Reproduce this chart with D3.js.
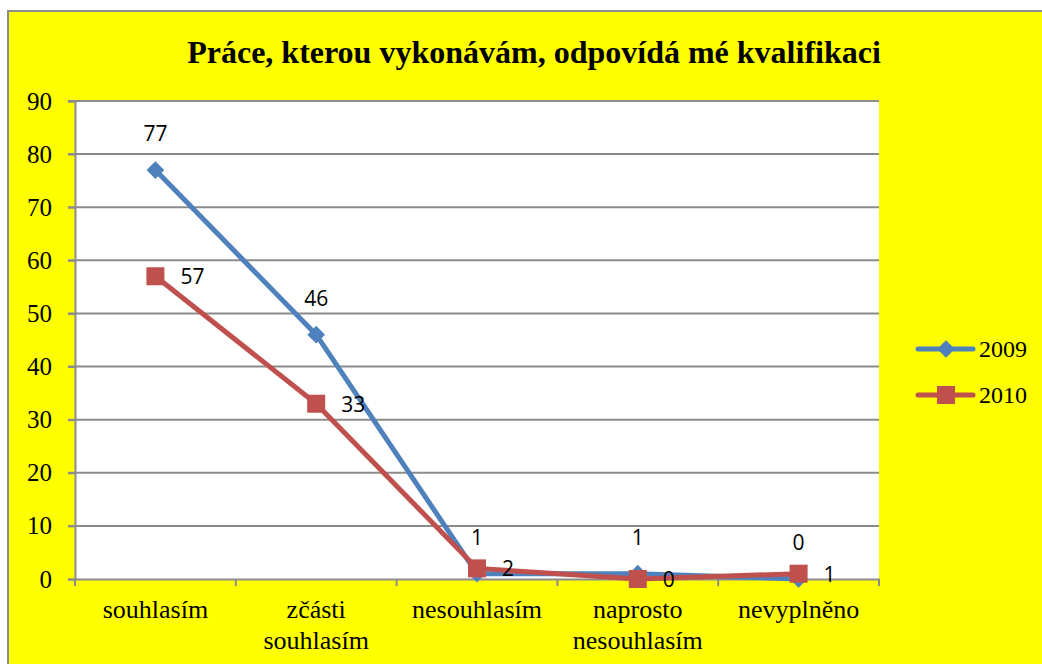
<!DOCTYPE html>
<html>
<head>
<meta charset="utf-8">
<script src="https://cdn.jsdelivr.net/npm/d3@7"></script>
<style>
  body { margin: 0; background: #fff; }
  svg { display: block; }
</style>
</head>
<body>
<svg id="chart"></svg>
<script>
// data
var categories = ["souhlasím", "zčásti souhlasím", "nesouhlasím", "naprosto nesouhlasím", "nevyplněno"];
var catLines = [["souhlasím"], ["zčásti", "souhlasím"], ["nesouhlasím"], ["naprosto", "nesouhlasím"], ["nevyplněno"]];
var values2009 = [77, 46, 1, 1, 0];
var values2010 = [57, 33, 2, 0, 1];
var yTicks = [0, 10, 20, 30, 40, 50, 60, 70, 80, 90];
var seriesNames = ["2009", "2010"];

var W = 1042, H = 664;
var serif = "'Liberation Serif', 'Times New Roman', serif";
var svg = d3.select("#chart").attr("width", W).attr("height", H);

// pozadi
svg.append("rect")
    .attr("x", 8).attr("y", 11)
    .attr("width", W - 8 + 2).attr("height", H - 11 + 2)
    .style("fill", "#ffff00")
    .style("stroke", "#8c8c8c")
    .style("stroke-width", 2);

var plot = {left: 75, right: 879, top: 101, bottom: 579};

var x = d3.scaleBand()
    .domain(categories)
    .range([plot.left, plot.right]);
var y = d3.scaleLinear()
    .domain([0, 90])
    .range([plot.bottom, plot.top]);

svg.append("rect")
    .attr("x", plot.left).attr("y", plot.top)
    .attr("width", plot.right - plot.left).attr("height", plot.bottom - plot.top)
    .style("fill", "#fff");

// mrizka
svg.selectAll(".grid")
    .data(yTicks.filter(function (d) { return d > 0; }))
    .enter()
    .append("line")
    .attr("class", "grid")
    .attr("x1", plot.left - 7).attr("x2", plot.right)
    .attr("y1", function (d) { return y(d); })
    .attr("y2", function (d) { return y(d); })
    .style("stroke", "#8c8c8c")
    .style("stroke-width", 2);

// osa y
var yAxis = svg.append("g")
    .attr("transform", "translate(" + plot.left + ",0)")
    .call(d3.axisLeft(y).tickValues(yTicks).tickSize(7).tickPadding(16))
    .attr("font-family", serif)
    .attr("font-size", 25);
yAxis.select(".domain").style("stroke", "#8c8c8c").style("stroke-width", 2);
yAxis.selectAll(".tick line").style("stroke", "#8c8c8c").style("stroke-width", 2);
yAxis.selectAll("text").style("fill", "#000");

// osa x
var xAxis = svg.append("g")
    .attr("transform", "translate(0," + plot.bottom + ")")
    .call(d3.axisBottom(x).tickSize(0).tickFormat(""));
xAxis.select(".domain").style("stroke", "#8c8c8c").style("stroke-width", 2);
var edges = categories.map(function (c) { return x(c); }).concat([plot.right]);
xAxis.selectAll(".cattick")
    .data(edges)
    .enter()
    .append("line")
    .attr("class", "cattick")
    .attr("x1", function (d) { return d; })
    .attr("x2", function (d) { return d; })
    .attr("y1", 0).attr("y2", 7)
    .style("stroke", "#8c8c8c")
    .style("stroke-width", 2);

var catLabels = svg.selectAll(".catlabel")
    .data(catLines)
    .enter()
    .append("text")
    .attr("class", "catlabel")
    .attr("text-anchor", "middle")
    .attr("font-family", serif)
    .attr("font-size", 26)
    .style("fill", "#000");
catLabels.each(function (d, i) {
    var cx = x(categories[i]) + x.bandwidth() / 2;
    d3.select(this).selectAll("tspan")
        .data(d)
        .enter()
        .append("tspan")
        .attr("x", cx)
        .attr("y", function (t, j) { return 618 + j * 31; })
        .text(function (t) { return t; });
});

// titulek
svg.append("text")
    .attr("x", 534).attr("y", 63)
    .attr("text-anchor", "middle")
    .attr("font-family", serif)
    .attr("font-weight", "bold")
    .attr("font-size", 32)
    .text("Práce, kterou vykonávám, odpovídá mé kvalifikaci");

var cxOf = function (i) { return x(categories[i]) + x.bandwidth() / 2; };
var line = d3.line()
    .x(function (d, i) { return cxOf(i); })
    .y(function (d) { return y(d); });

var blue = "#4f81bd", red = "#c0504d";

svg.append("path")
    .datum(values2009)
    .attr("d", line)
    .style("fill", "none")
    .style("stroke", blue)
    .style("stroke-width", 5)
    .style("stroke-linejoin", "round");
svg.append("path")
    .datum(values2010)
    .attr("d", line)
    .style("fill", "none")
    .style("stroke", red)
    .style("stroke-width", 5)
    .style("stroke-linejoin", "round");

var diamond = d3.symbol().type(d3.symbolDiamond2).size(200);

svg.selectAll(".m2009")
    .data(values2009)
    .enter()
    .append("path")
    .attr("class", "m2009")
    .attr("d", diamond)
    .attr("transform", function (d, i) { return "translate(" + cxOf(i) + "," + y(d) + ")"; })
    .style("fill", blue);

svg.selectAll(".m2010")
    .data(values2010)
    .enter()
    .append("rect")
    .attr("class", "m2010")
    .attr("x", function (d, i) { return cxOf(i) - 9; })
    .attr("y", function (d) { return y(d) - 9; })
    .attr("width", 18).attr("height", 18)
    .style("fill", red);

var labelFont = "'Open Sans', 'DejaVu Sans', sans-serif";
svg.selectAll(".l2009")
    .data(values2009)
    .enter()
    .append("text")
    .attr("class", "l2009")
    .attr("x", function (d, i) { return cxOf(i); })
    .attr("y", function (d) { return y(d) - 29; })
    .attr("text-anchor", "middle")
    .attr("font-family", labelFont)
    .attr("font-size", 21)
    .text(function (d) { return d; });

svg.selectAll(".l2010")
    .data(values2010)
    .enter()
    .append("text")
    .attr("class", "l2010")
    .attr("x", function (d, i) { return cxOf(i) + 25; })
    .attr("y", function (d) { return y(d) + 8; })
    .attr("font-family", labelFont)
    .attr("font-size", 21)
    .text(function (d) { return d; });

// legenda
var legend = svg.selectAll(".legend")
    .data(seriesNames)
    .enter()
    .append("g")
    .attr("class", "legend")
    .attr("transform", function (d, i) { return "translate(918," + (349 + i * 46) + ")"; });
legend.append("line")
    .attr("x1", 0).attr("x2", 55)
    .style("stroke", function (d, i) { return i === 0 ? blue : red; })
    .style("stroke-width", 5)
    .style("stroke-linecap", "round");
legend.each(function (d, i) {
    var g = d3.select(this);
    if (i === 0) {
        g.append("path").attr("d", diamond).attr("transform", "translate(28,0)").style("fill", blue);
    } else {
        g.append("rect").attr("x", 19).attr("y", -9).attr("width", 18).attr("height", 18).style("fill", red);
    }
});
legend.append("text")
    .attr("x", 61).attr("y", 8)
    .attr("font-family", serif)
    .attr("font-size", 24)
    .text(function (d) { return d; });
</script>
</body>
</html>
